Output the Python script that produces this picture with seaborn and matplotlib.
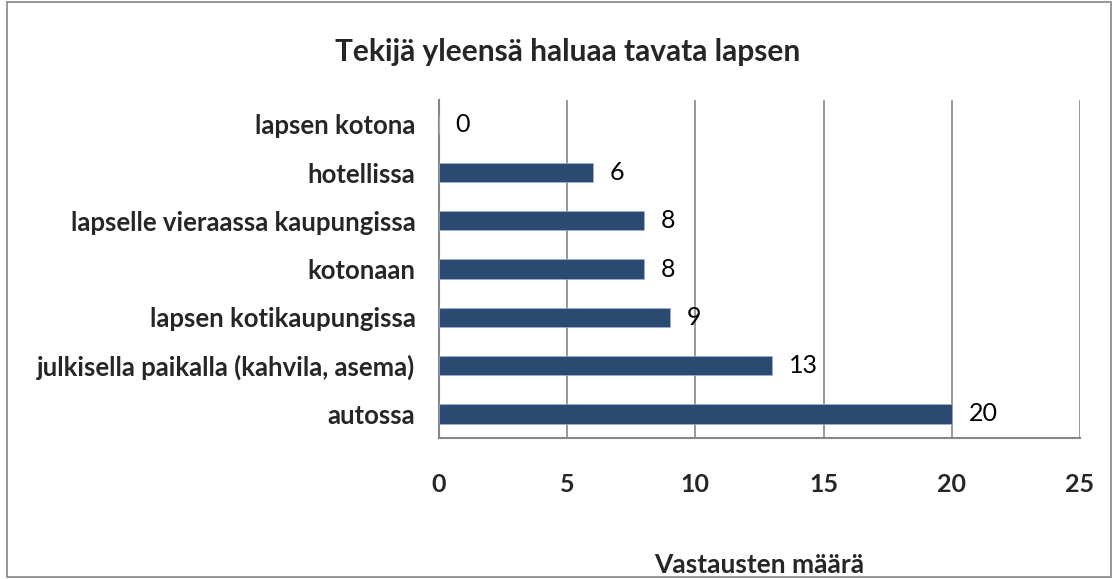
import numpy as np
import pandas as pd
import seaborn as sns
import matplotlib.pyplot as plt
from matplotlib.patches import Rectangle

## data
categories = ['lapsen kotona', 'hotellissa', 'lapselle vieraassa kaupungissa', 'kotonaan',
              'lapsen kotikaupungissa', 'julkisella paikalla (kahvila, asema)', 'autossa']
counts = [0, 6, 8, 8, 9, 13, 20]
x_ticks = [0, 5, 10, 15, 20, 25]

df = pd.DataFrame({'Paikka': categories, 'Vastausten määrä': counts})

## setting
sns.set_style('white')
plt.rcParams['font.family'] = ['Lato', 'DejaVu Sans']

fig, ax = plt.subplots(figsize=(11.18, 5.79), dpi=100)
fig.subplots_adjust(left=0.3927, right=0.966, top=0.827, bottom=0.2435)

sns.barplot(data=df, x='Vastausten määrä', y='Paikka', color='#1F497D',
            width=0.4, edgecolor='#9db3d1', linewidth=0.5, ax=ax, zorder=3)

## data labels
for c in ax.containers:
    ax.bar_label(c, padding=12, fontsize=18, color='black')

ax.set_xlim(0, 25)
ax.set_ylim(6.5, -0.5)
ax.set_xticks(x_ticks)
ax.set_xticklabels([str(t) for t in x_ticks], fontsize=18, fontweight='bold')
ax.tick_params(axis='x', length=6, width=1.5, color='#868686', pad=19)
ax.set_yticks(np.arange(-0.5, 7, 1), minor=True)
ax.tick_params(axis='y', which='major', length=0, pad=17)
ax.tick_params(axis='y', which='minor', length=6, width=1.5, color='#868686')
for lab in ax.get_yticklabels():
    lab.set_fontsize(18.5)
    lab.set_fontweight('bold')

ax.grid(axis='x', color='#868686', linewidth=1.2, zorder=0)
ax.grid(axis='y', visible=False)
for side in ['top', 'right']:
    ax.spines[side].set_visible(False)
for side in ['left', 'bottom']:
    ax.spines[side].set_color('#868686')
    ax.spines[side].set_linewidth(1.5)

ax.set_ylabel('')
ax.set_xlabel('Vastausten määrä', fontsize=19, fontweight='bold', labelpad=41)
fig.suptitle('Tekijä yleensä haluaa tavata lapsen', x=0.508, y=0.935,
             fontsize=21.5, fontweight='bold')

## outer border
fig.patches.append(Rectangle((0.006, 0.004), 0.988, 0.992, transform=fig.transFigure,
                             fill=False, edgecolor='#868686', linewidth=1.2))

fig.savefig('out.png', dpi=100)
